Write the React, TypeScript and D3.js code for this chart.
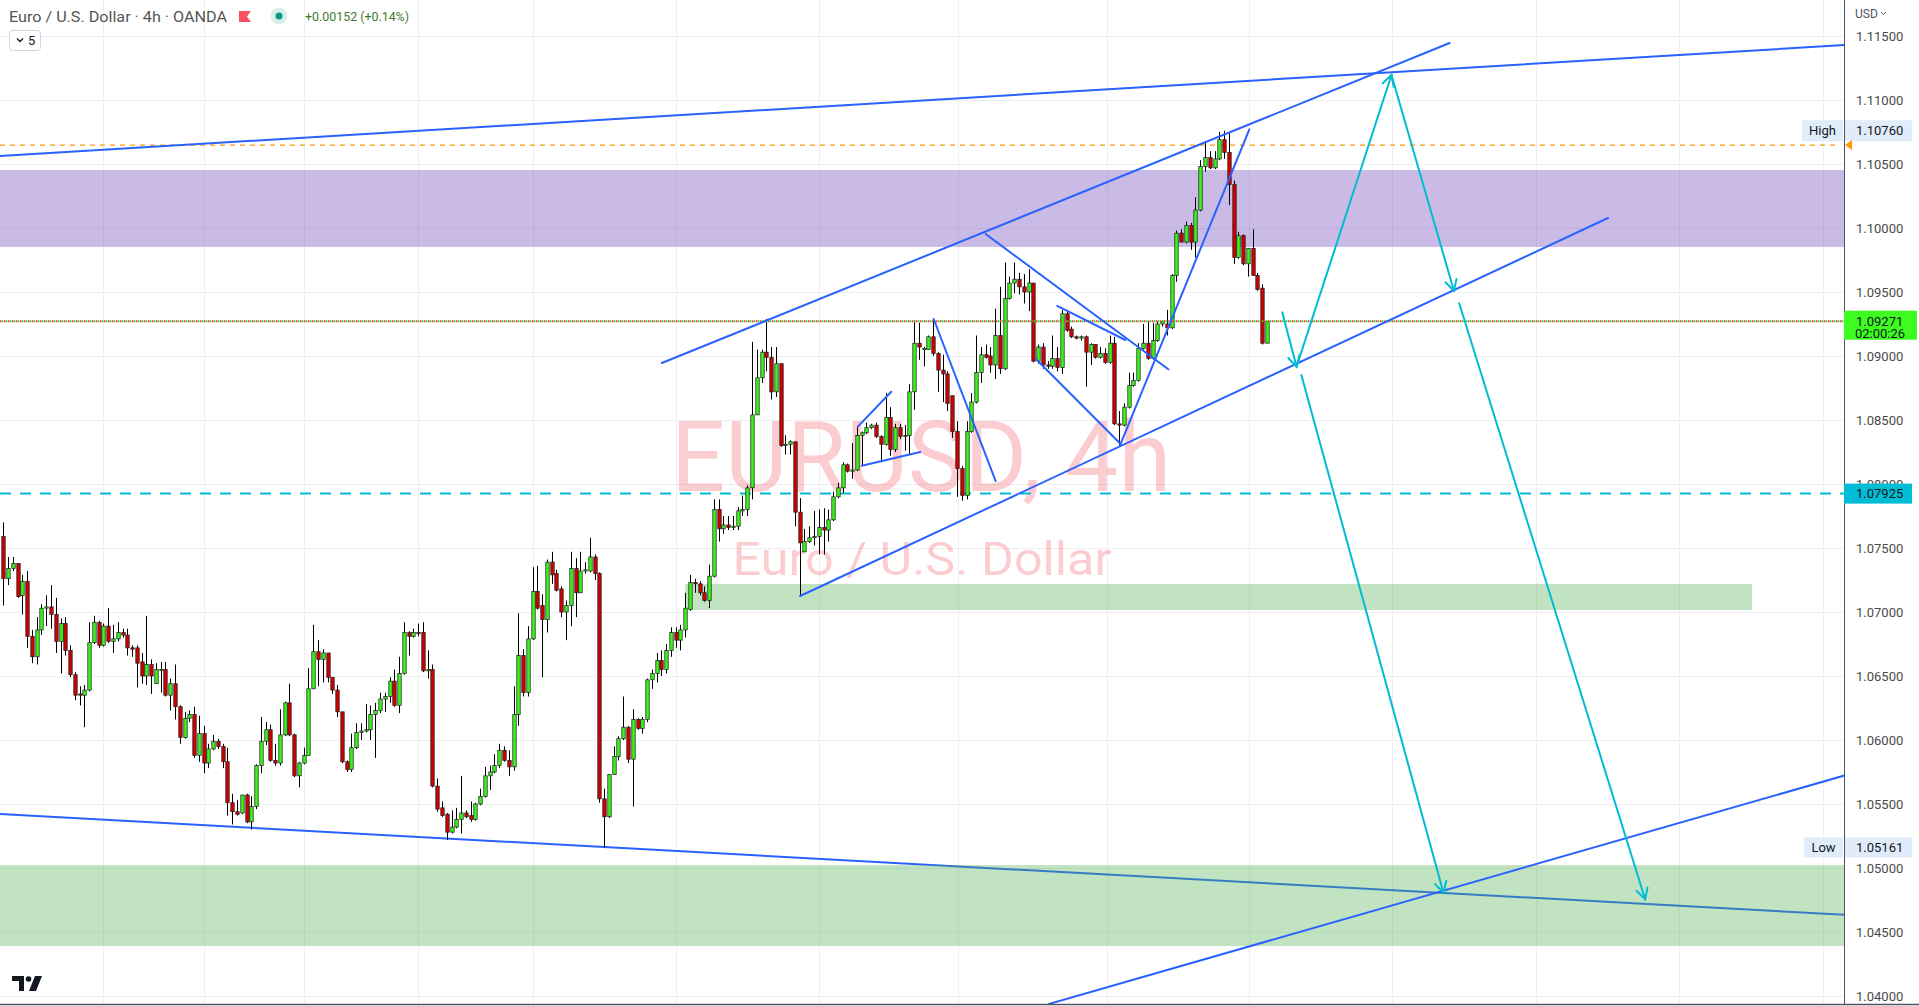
import React from 'react';
import * as d3 from 'd3';

// 4h EURUSD candles, [open, high, low, close]
const ohlc: [number, number, number, number][] = [
  [1.0759, 1.077, 1.0705, 1.0726], [1.0726, 1.0743, 1.0721, 1.0734], [1.0734, 1.0743, 1.0732, 1.0738], [1.0738, 1.0738, 1.0711, 1.0712],
  [1.0713, 1.0729, 1.0698, 1.0724], [1.0724, 1.0732, 1.0672, 1.0681], [1.0681, 1.0686, 1.066, 1.0665], [1.0665, 1.0696, 1.0659, 1.0686],
  [1.0686, 1.0706, 1.0682, 1.0703], [1.0703, 1.0713, 1.0689, 1.0704], [1.0704, 1.0721, 1.0687, 1.0698], [1.0698, 1.0711, 1.0668, 1.0677],
  [1.0677, 1.0695, 1.0652, 1.0691], [1.0691, 1.0696, 1.0666, 1.067], [1.067, 1.0674, 1.0649, 1.0651], [1.0651, 1.0653, 1.0631, 1.0635],
  [1.0636, 1.0642, 1.0627, 1.0635], [1.0635, 1.0643, 1.061, 1.0639], [1.0639, 1.0692, 1.0638, 1.0676], [1.0676, 1.0697, 1.0675, 1.0692],
  [1.0692, 1.0693, 1.0672, 1.0674], [1.0674, 1.0691, 1.0673, 1.0689], [1.0689, 1.0703, 1.0676, 1.0677], [1.0677, 1.069, 1.0668, 1.0679],
  [1.0679, 1.0692, 1.0677, 1.0684], [1.0684, 1.0687, 1.068, 1.0682], [1.0682, 1.0687, 1.0666, 1.0672], [1.0672, 1.0674, 1.0665, 1.0671],
  [1.0672, 1.0674, 1.0641, 1.066], [1.0661, 1.0668, 1.0644, 1.065], [1.065, 1.0697, 1.0643, 1.0659], [1.0659, 1.0663, 1.0636, 1.065],
  [1.0644, 1.066, 1.0644, 1.0655], [1.0655, 1.0661, 1.0637, 1.0655], [1.0655, 1.0661, 1.0634, 1.0635], [1.0635, 1.0648, 1.0623, 1.0644],
  [1.0644, 1.0659, 1.0616, 1.0626], [1.0626, 1.0627, 1.0597, 1.0602], [1.0602, 1.0622, 1.0601, 1.0617], [1.0617, 1.0623, 1.0614, 1.062],
  [1.062, 1.0626, 1.0586, 1.0588], [1.0588, 1.0619, 1.0583, 1.0605], [1.0605, 1.0611, 1.0574, 1.0582], [1.0582, 1.0597, 1.0578, 1.0593],
  [1.0593, 1.0604, 1.0592, 1.0599], [1.0599, 1.0601, 1.0593, 1.0595], [1.0595, 1.0597, 1.0578, 1.0583], [1.0583, 1.0594, 1.0541, 1.0551],
  [1.0551, 1.0558, 1.0534, 1.0544], [1.0544, 1.0553, 1.0541, 1.0542], [1.0543, 1.0557, 1.0542, 1.0557], [1.0557, 1.0558, 1.0535, 1.0536],
  [1.0536, 1.0556, 1.053, 1.0548], [1.0548, 1.0581, 1.0546, 1.058], [1.058, 1.0618, 1.0574, 1.0599], [1.0599, 1.0614, 1.0596, 1.0608],
  [1.0608, 1.0612, 1.0583, 1.0584], [1.0584, 1.0597, 1.058, 1.0582], [1.0582, 1.0624, 1.058, 1.0604], [1.0604, 1.063, 1.0603, 1.0629],
  [1.0629, 1.0644, 1.0603, 1.0604], [1.0604, 1.0605, 1.0571, 1.0572], [1.0572, 1.0583, 1.0563, 1.0582], [1.0582, 1.0594, 1.0581, 1.0588],
  [1.0588, 1.0656, 1.0588, 1.064], [1.064, 1.069, 1.064, 1.0669], [1.0669, 1.0678, 1.0642, 1.0663], [1.0663, 1.0671, 1.0645, 1.0668],
  [1.0668, 1.0668, 1.0645, 1.0649], [1.0649, 1.0649, 1.0636, 1.0639], [1.0639, 1.0643, 1.0618, 1.0622], [1.0622, 1.0622, 1.0582, 1.0583],
  [1.0583, 1.0584, 1.0575, 1.0577], [1.0577, 1.0605, 1.0575, 1.0594], [1.0594, 1.0613, 1.0593, 1.0606], [1.0606, 1.0613, 1.06, 1.0607],
  [1.0607, 1.0628, 1.0606, 1.0608], [1.0608, 1.0627, 1.06, 1.062], [1.062, 1.0629, 1.0586, 1.0623], [1.0623, 1.0637, 1.0621, 1.0632],
  [1.0632, 1.0637, 1.0622, 1.0634], [1.0634, 1.0649, 1.0629, 1.0646], [1.0646, 1.0655, 1.0626, 1.0627], [1.0627, 1.0665, 1.0621, 1.0652],
  [1.0652, 1.0692, 1.0651, 1.0684], [1.0684, 1.0685, 1.0666, 1.0681], [1.0681, 1.0687, 1.068, 1.0684], [1.0684, 1.0691, 1.0681, 1.0683],
  [1.0684, 1.0692, 1.0653, 1.0654], [1.0654, 1.067, 1.0648, 1.0655], [1.0655, 1.0659, 1.0563, 1.0564], [1.0564, 1.057, 1.0544, 1.0546],
  [1.0547, 1.0552, 1.054, 1.0541], [1.0542, 1.0543, 1.0522, 1.0528], [1.0528, 1.0545, 1.0527, 1.0532], [1.0532, 1.0547, 1.0531, 1.0538],
  [1.0538, 1.0572, 1.0527, 1.0543], [1.0543, 1.0545, 1.0539, 1.054], [1.0541, 1.0552, 1.0536, 1.0538], [1.0538, 1.0551, 1.0537, 1.055],
  [1.055, 1.0562, 1.0549, 1.0556], [1.0556, 1.0579, 1.0555, 1.0572], [1.0572, 1.058, 1.0561, 1.0575], [1.0575, 1.0589, 1.0574, 1.058],
  [1.058, 1.0597, 1.0578, 1.0592], [1.0592, 1.0595, 1.0583, 1.0584], [1.0584, 1.0592, 1.0572, 1.0579], [1.0579, 1.0642, 1.0576, 1.062],
  [1.062, 1.0699, 1.0611, 1.0666], [1.0666, 1.0671, 1.0634, 1.0637], [1.0637, 1.0689, 1.0634, 1.0679], [1.0679, 1.0735, 1.0678, 1.0716],
  [1.0716, 1.0736, 1.0702, 1.0703], [1.0705, 1.0714, 1.0649, 1.0694], [1.0694, 1.0741, 1.0684, 1.0739], [1.0739, 1.0747, 1.0722, 1.0729],
  [1.073, 1.0733, 1.0716, 1.0717], [1.0718, 1.072, 1.0696, 1.07], [1.07, 1.0709, 1.0678, 1.0705], [1.0705, 1.0747, 1.0689, 1.0734],
  [1.0734, 1.0742, 1.0696, 1.0715], [1.0715, 1.0747, 1.0715, 1.0732], [1.0732, 1.0739, 1.073, 1.0733], [1.0732, 1.0758, 1.0731, 1.0743],
  [1.0743, 1.0745, 1.0725, 1.073], [1.073, 1.0731, 1.0551, 1.0554], [1.0554, 1.0562, 1.05161, 1.054], [1.054, 1.0573, 1.0539, 1.0573],
  [1.0573, 1.0595, 1.0573, 1.0587], [1.0587, 1.0603, 1.0584, 1.0601], [1.0601, 1.0634, 1.06, 1.061], [1.061, 1.0611, 1.0582, 1.0585],
  [1.0585, 1.0624, 1.0548, 1.0616], [1.0616, 1.0617, 1.0608, 1.0609], [1.0609, 1.0618, 1.0605, 1.0616], [1.0616, 1.0648, 1.0614, 1.0647],
  [1.0647, 1.0655, 1.064, 1.0652], [1.0652, 1.0668, 1.0645, 1.0662], [1.0662, 1.067, 1.065, 1.0655], [1.0655, 1.0675, 1.0652, 1.067],
  [1.067, 1.0688, 1.0665, 1.0684], [1.0684, 1.0688, 1.0672, 1.0678], [1.0678, 1.069, 1.067, 1.0686], [1.0686, 1.0715, 1.068, 1.0703],
  [1.0702, 1.0729, 1.0701, 1.0723], [1.0723, 1.0726, 1.0715, 1.0722], [1.0722, 1.0724, 1.0713, 1.0715], [1.0715, 1.072, 1.0708, 1.0709],
  [1.0709, 1.0737, 1.0703, 1.0728], [1.0728, 1.0788, 1.0727, 1.078], [1.078, 1.0788, 1.0755, 1.0765], [1.0765, 1.0775, 1.0761, 1.0768],
  [1.0768, 1.0775, 1.0764, 1.0766], [1.0766, 1.0775, 1.0764, 1.0767], [1.0767, 1.0782, 1.0764, 1.0779], [1.0779, 1.0791, 1.0775, 1.078],
  [1.078, 1.0799, 1.0775, 1.0797], [1.0797, 1.0911, 1.0788, 1.0854], [1.0854, 1.0905, 1.0854, 1.0883], [1.0883, 1.0905, 1.0879, 1.0903],
  [1.0903, 1.0929, 1.0888, 1.0899], [1.0899, 1.0907, 1.0866, 1.0872], [1.0872, 1.0907, 1.0868, 1.0894], [1.0894, 1.0894, 1.0829, 1.083],
  [1.083, 1.0838, 1.0823, 1.0831], [1.0831, 1.0834, 1.0823, 1.0833], [1.0833, 1.0833, 1.0767, 1.0778], [1.0778, 1.0789, 1.0713, 1.0754],
  [1.0747, 1.0765, 1.0747, 1.0755], [1.0755, 1.0767, 1.0754, 1.0758], [1.0758, 1.0779, 1.0752, 1.0759], [1.0759, 1.078, 1.0745, 1.0766],
  [1.0766, 1.0781, 1.0745, 1.0764], [1.0764, 1.078, 1.0755, 1.0772], [1.0772, 1.0794, 1.0771, 1.079], [1.079, 1.0801, 1.0789, 1.0797],
  [1.0797, 1.0817, 1.0793, 1.0815], [1.0815, 1.0816, 1.0809, 1.081], [1.081, 1.0832, 1.0804, 1.0811], [1.0811, 1.0845, 1.081, 1.0838],
  [1.0838, 1.0841, 1.0814, 1.084], [1.084, 1.0848, 1.0839, 1.0844], [1.0844, 1.0847, 1.0843, 1.0846], [1.0846, 1.0848, 1.0836, 1.0837],
  [1.0837, 1.0838, 1.0817, 1.0831], [1.0831, 1.0871, 1.083, 1.0852], [1.0852, 1.086, 1.0822, 1.0827], [1.0827, 1.0847, 1.0825, 1.0844],
  [1.0844, 1.0847, 1.0835, 1.0837], [1.0837, 1.0846, 1.0826, 1.0838], [1.0838, 1.0878, 1.0823, 1.0872], [1.0872, 1.0928, 1.0858, 1.091],
  [1.091, 1.0926, 1.0897, 1.0907], [1.0905, 1.0907, 1.0892, 1.0906], [1.0905, 1.0916, 1.0905, 1.0915], [1.0915, 1.0929, 1.09, 1.0902],
  [1.0902, 1.0903, 1.0872, 1.0889], [1.0889, 1.0901, 1.0864, 1.0886], [1.0886, 1.0888, 1.0857, 1.0863], [1.0869, 1.0869, 1.0836, 1.0841],
  [1.0841, 1.0849, 1.079, 1.0812], [1.0812, 1.0814, 1.0787, 1.0791], [1.0791, 1.0849, 1.0788, 1.0841], [1.0841, 1.0871, 1.084, 1.0864],
  [1.0864, 1.0916, 1.0863, 1.0887], [1.0887, 1.0907, 1.0879, 1.0901], [1.0901, 1.0909, 1.0898, 1.0899], [1.09, 1.0907, 1.0887, 1.0893],
  [1.0893, 1.0937, 1.0882, 1.0916], [1.0916, 1.0954, 1.0886, 1.089], [1.089, 1.0973, 1.0889, 1.0945], [1.0945, 1.0962, 1.0944, 1.0957],
  [1.0957, 1.0973, 1.0949, 1.096], [1.096, 1.0965, 1.0948, 1.0954], [1.0954, 1.0964, 1.0941, 1.095], [1.095, 1.0968, 1.0935, 1.0957],
  [1.0957, 1.0957, 1.0895, 1.0896], [1.0896, 1.0909, 1.0894, 1.0907], [1.0907, 1.091, 1.089, 1.0893], [1.0893, 1.0896, 1.089, 1.0892],
  [1.0892, 1.0916, 1.089, 1.0898], [1.0898, 1.0907, 1.0888, 1.0891], [1.0891, 1.0936, 1.0886, 1.0933], [1.0933, 1.0935, 1.0919, 1.092],
  [1.0921, 1.0923, 1.0914, 1.0915], [1.0915, 1.0916, 1.0913, 1.0914], [1.0914, 1.0916, 1.0912, 1.0915], [1.0915, 1.0916, 1.0876, 1.0903],
  [1.0903, 1.091, 1.0893, 1.0909], [1.0909, 1.0909, 1.0898, 1.0899], [1.0899, 1.0907, 1.0898, 1.0902], [1.0902, 1.0906, 1.0894, 1.0895],
  [1.0895, 1.0916, 1.0894, 1.091], [1.091, 1.0915, 1.0846, 1.0847], [1.0847, 1.0857, 1.083, 1.0846], [1.0846, 1.0863, 1.0845, 1.086],
  [1.086, 1.0887, 1.0859, 1.0877], [1.0877, 1.0887, 1.0876, 1.0881], [1.0881, 1.091, 1.088, 1.0906], [1.0906, 1.0925, 1.0905, 1.091],
  [1.091, 1.0927, 1.0897, 1.0898], [1.0898, 1.0926, 1.0897, 1.0912], [1.0912, 1.0927, 1.0911, 1.0925], [1.0925, 1.0928, 1.0923, 1.0927],
  [1.0925, 1.0936, 1.0916, 1.0922], [1.0922, 1.0964, 1.0921, 1.0963], [1.0963, 1.0998, 1.0958, 1.0996], [1.0996, 1.0999, 1.0989, 1.0989],
  [1.0989, 1.1005, 1.0988, 1.1002], [1.1002, 1.1004, 1.0983, 1.0989], [1.0989, 1.1024, 1.0977, 1.1014], [1.1014, 1.1053, 1.1013, 1.1048],
  [1.1048, 1.1068, 1.1044, 1.1055], [1.1055, 1.106, 1.1046, 1.1047], [1.1047, 1.106, 1.1046, 1.1054], [1.1054, 1.1075, 1.1053, 1.1069],
  [1.1069, 1.1076, 1.1054, 1.1059], [1.1059, 1.1074, 1.1018, 1.1034], [1.1034, 1.1037, 1.0972, 1.0977], [1.0977, 1.0997, 1.0976, 1.0994],
  [1.0994, 1.0995, 1.0971, 1.0972], [1.0972, 1.0984, 1.0962, 1.0984], [1.0984, 1.0999, 1.0963, 1.0963], [1.0963, 1.0965, 1.0951, 1.0952],
  [1.0953, 1.0956, 1.0909, 1.091], [1.091, 1.0927, 1.091, 1.0927],
];

const priceTicks = [1.04, 1.045, 1.05, 1.055, 1.06, 1.065, 1.07, 1.075, 1.08, 1.085, 1.09, 1.095, 1.1, 1.105, 1.11, 1.115];
// bar index of each vertical grid line (session/week boundaries)
const gridBars = [21, 42, 63, 87, 111, 141, 171, 200.3, 231.5, 261.3, 291.3, 321.5, 351.5, 381.5];

// rectangles: [barFrom, barTo, priceLow, priceHigh]
const supplyZone = [-5, 400, 1.09852, 1.10453];
const demandZone = [143, 366.7, 1.07016, 1.07219];
const targetZone = [-5, 400, 1.0439, 1.05023];

// trend lines: [bar1, price1, bar2, price2]
const bottomLine = [-0.7, 1.05422, 386.5, 1.04633];
const trendLines = [
  [-0.7, 1.10563, 386.5, 1.1143],
  [138.1, 1.08945, 303.3, 1.11445],
  [167.1, 1.07125, 336.5, 1.10078],
  [219.3, 1.03938, 386.5, 1.05727],
  [179.2, 1.08448, 186.2, 1.08721],
  [180.0, 1.08143, 192.3, 1.0825],
  [195.1, 1.09289, 208.1, 1.08023],
  [206.0, 1.09953, 244.3, 1.08896],
  [221.0, 1.09391, 235.3, 1.09125],
  [216.6, 1.08974, 234.3, 1.08313],
  [234.3, 1.08313, 261.3, 1.10771],
];
// projection arrows: [bar1, price1, bar2, price2]
const arrows = [
  [268.2, 1.09341, 271.2, 1.08916],
  [271.2, 1.08916, 291.1, 1.11195],
  [291.1, 1.11195, 304.2, 1.0951],
  [305.3, 1.09412, 344.3, 1.04756],
  [272.2, 1.08852, 302.0, 1.04807],
];

const highPrice = 1.1076;
const lowPrice = 1.05161;
const lastPrice = 1.09271;
const cyanLevel = 1.07925;
const orangeLevel = 1.10648;
const countdown = '02:00:26';

const W = 1919;
const H = 1006;
const PR = 1844;
const PB = 1004;
const FONT = 'Roboto, "Noto Sans", sans-serif';

const x = d3.scaleLinear().domain([0, ohlc.length - 1]).range([3.3, 1267]);
const y = d3.scaleLinear().domain([1.04, 1.115]).range([996, 36]);
const fmt = d3.format('.5f');

const arrowHead = (x1: number, y1: number, x2: number, y2: number) => {
  const a = Math.atan2(y2 - y1, x2 - x1);
  const L = 12;
  const p1 = [x2 + L * Math.cos(a + Math.PI - 0.5), y2 + L * Math.sin(a + Math.PI - 0.5)];
  const p2 = [x2 + L * Math.cos(a + Math.PI + 0.5), y2 + L * Math.sin(a + Math.PI + 0.5)];
  return `M${p1[0]},${p1[1]}L${x2},${y2}L${p2[0]},${p2[1]}`;
};

const Zone = ({ z, fill }: { z: number[]; fill: string }) => (
  <rect x={x(z[0])} y={y(z[3])} width={x(z[1]) - x(z[0])} height={y(z[2]) - y(z[3])} fill={fill} />
);

export default function App() {
  const lineY = y(lastPrice);
  const cyanY = y(cyanLevel);
  const highY = y(highPrice);
  const lowY = y(lowPrice);
  const orangeY = y(orangeLevel);

  return (
    <div style={{ position: 'fixed', left: 0, top: 0, width: W, height: H, background: '#fff' }}>
      <svg width={W} height={H} style={{ display: 'block', fontFamily: FONT }}>
        <defs>
          <clipPath id="plot">
            <rect x={0} y={0} width={PR} height={PB} />
          </clipPath>
        </defs>

        {/* grid */}
        <g stroke="#eeeff2" strokeWidth={1}>
          {priceTicks.map((p) => (
            <line key={p} x1={0} x2={PR} y1={Math.round(y(p)) + 0.5} y2={Math.round(y(p)) + 0.5} />
          ))}
          {gridBars.map((b) => (
            <line key={b} x1={Math.round(x(b)) + 0.5} x2={Math.round(x(b)) + 0.5} y1={0} y2={PB} />
          ))}
        </g>

        {/* watermark */}
        <g fill="rgba(242,54,69,0.25)" textAnchor="middle">
          <text x={921} y={491} fontSize={98} textLength={500} lengthAdjust="spacingAndGlyphs">EURUSD, 4h</text>
          <text x={922} y={575} fontSize={46} textLength={379} lengthAdjust="spacingAndGlyphs">Euro / U.S. Dollar</text>
        </g>

        <g clipPath="url(#plot)">
          <Zone z={supplyZone} fill="rgba(103,58,183,0.35)" />
          <line x1={x(bottomLine[0])} y1={y(bottomLine[1])} x2={x(bottomLine[2])} y2={y(bottomLine[3])} stroke="#2962ff" strokeWidth={2} />
          <Zone z={targetZone} fill="rgba(76,175,80,0.35)" />
          <Zone z={demandZone} fill="rgba(76,175,80,0.35)" />

          {/* horizontal levels */}
          <line x1={0} x2={1838} y1={orangeY} y2={orangeY} stroke="#ff9800" strokeWidth={1.3} strokeDasharray="5 5" />
          <line x1={0} x2={PR} y1={cyanY} y2={cyanY} stroke="#00bcd4" strokeWidth={2} strokeDasharray="11 9" />

          {/* candles */}
          {ohlc.map(([o, h, l, c], i) => {
            const cx = Math.round(x(i)) + 0.5;
            const up = c >= o;
            const top = y(Math.max(o, c));
            const bh = Math.max(1, Math.abs(y(o) - y(c)));
            return (
              <g key={i}>
                <line x1={cx} x2={cx} y1={y(h)} y2={y(l)} stroke="#000" strokeWidth={1} />
                <rect x={cx - 1.7} y={top} width={3.4} height={bh} fill={up ? '#39f51c' : '#d00000'} stroke="#1b1b1b" strokeWidth={0.7} />
              </g>
            );
          })}

          {/* last price line */}
          <line x1={0} x2={PR} y1={lineY} y2={lineY} stroke="#f23645" strokeWidth={2} strokeDasharray="1.5 2.5" />
          <line x1={0} x2={PR} y1={lineY} y2={lineY} stroke="#2bd92b" strokeWidth={2} strokeDasharray="1.5 2.5" strokeDashoffset={2} />

          {/* trend lines */}
          {trendLines.map((t, i) => (
            <line key={i} x1={x(t[0])} y1={y(t[1])} x2={x(t[2])} y2={y(t[3])} stroke="#2962ff" strokeWidth={2} strokeLinecap="round" />
          ))}

          {/* arrows */}
          {arrows.map((a, i) => {
            const x1 = x(a[0]), y1 = y(a[1]), x2 = x(a[2]), y2 = y(a[3]);
            return (
              <g key={i} stroke="#00bcd4" strokeWidth={2} fill="none" strokeLinecap="round">
                <line x1={x1} y1={y1} x2={x2} y2={y2} />
                <path d={arrowHead(x1, y1, x2, y2)} />
              </g>
            );
          })}
        </g>

        {/* axes frame */}
        <line x1={PR + 0.5} x2={PR + 0.5} y1={0} y2={PB} stroke="#50535e" strokeWidth={1} />
        <line x1={0} x2={W} y1={PB + 0.5} y2={PB + 0.5} stroke="#50535e" strokeWidth={1.5} />

        {/* price labels */}
        <g fontSize={13} fill="#4a4a4a">
          {priceTicks.map((p) => (
            <text key={p} x={1856} y={y(p) + 4.5}>{fmt(p)}</text>
          ))}
        </g>
        <text x={1855} y={18} fontSize={12} fill="#4a5468">USD</text>
        <path d="M1881,12 l2.5,2.5 l2.5,-2.5" stroke="#4a5468" strokeWidth={1} fill="none" />

        {/* high / low badges */}
        <g fontSize={13} fill="#131722">
          <rect x={1802} y={highY - 10.5} width={41} height={21} fill="#e1ecfb" />
          <rect x={1845} y={highY - 10.5} width={67} height={21} fill="#e1ecfb" />
          <text x={1822.5} y={highY + 4.5} textAnchor="middle">High</text>
          <text x={1856} y={highY + 4.5}>{fmt(highPrice)}</text>
          <rect x={1804} y={lowY - 10} width={39} height={20} fill="#e1ecfb" />
          <rect x={1845} y={lowY - 10} width={67} height={20} fill="#e1ecfb" />
          <text x={1823.5} y={lowY + 4.5} textAnchor="middle">Low</text>
          <text x={1856} y={lowY + 4.5}>{fmt(lowPrice)}</text>
        </g>
        <path d={`M1845,${orangeY} L1852,${orangeY - 5} L1852,${orangeY + 5} Z`} fill="#ff9800" />

        {/* cyan level badge */}
        <rect x={1844} y={cyanY - 10} width={68} height={20} fill="#00bcd4" />
        <text x={1856} y={cyanY + 4.5} fontSize={13} fill="#131722">{fmt(cyanLevel)}</text>

        {/* last price badge */}
        <rect x={1844} y={lineY - 10.5} width={73} height={29} rx={1} fill="#3dfc1f" />
        <text x={1856} y={lineY + 4.5} fontSize={13} fill="#131722">{fmt(lastPrice)}</text>
        <text x={1855} y={lineY + 17} fontSize={13} fill="#131722">{countdown}</text>

        {/* header legend */}
        <text x={9} y={22} fontSize={14.5} fill="#555" textLength={218} lengthAdjust="spacingAndGlyphs">Euro / U.S. Dollar · 4h · OANDA</text>
        <path d="M239,11 h12 l-4,5.5 l4,5.5 h-12 Z" fill="#f7525f" />
        <circle cx={279} cy={16} r={8.5} fill="#d6efea" />
        <circle cx={279} cy={16} r={3.5} fill="#089981" />
        <text x={305} y={21} fontSize={12.5} fill="#3f7a2c" textLength={104} lengthAdjust="spacingAndGlyphs">+0.00152 (+0.14%)</text>
        <rect x={9.5} y={30.5} width={31} height={20} rx={3} fill="#fff" stroke="#d1d4dc" />
        <path d="M17,38.5 l3,3 l3,-3" stroke="#131722" strokeWidth={1.3} fill="none" />
        <text x={28} y={45} fontSize={13} fill="#131722">5</text>

        {/* logo */}
        <g fill="#131722">
          <path d="M12,976 h12 v15 h-5 v-10 h-7 Z" />
          <circle cx={28.5} cy={979} r={2.8} />
          <path d="M35,976 h7 l-6,15 h-7 Z" />
        </g>
      </svg>
    </div>
  );
}
